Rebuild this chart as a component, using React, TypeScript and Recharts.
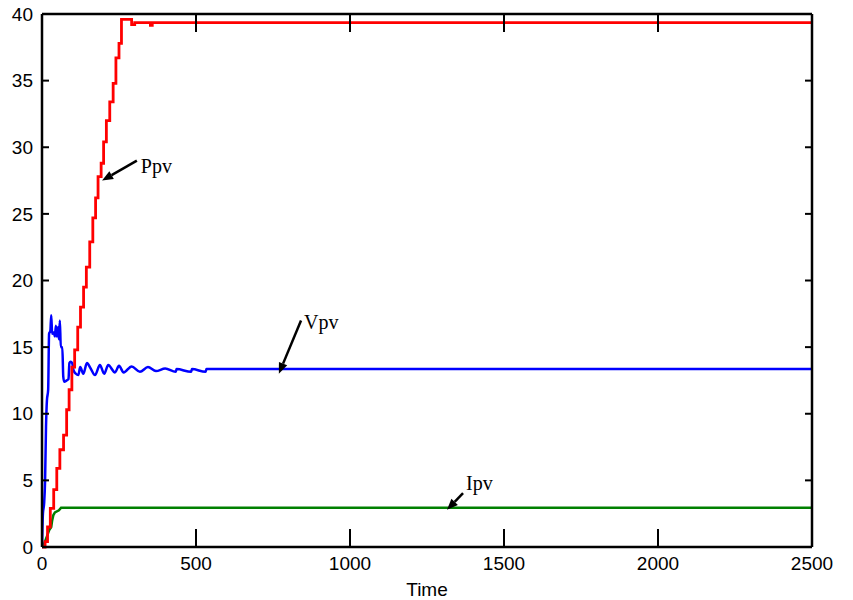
import React from 'react';
import {
  LineChart,
  Line,
  XAxis,
  YAxis,
  ReferenceLine,
} from 'recharts';

// time axis ticks and value axis ticks
const timeTicks = [0, 500, 1000, 1500, 2000, 2500];
const valueTicks = [0, 5, 10, 15, 20, 25, 30, 35, 40];

// Ppv (red) - staircase ramp then flat
const pTime = [0, 10, 18, 27, 38, 48, 58, 70, 80, 88, 97, 106, 116, 125, 135, 144, 155, 165, 174, 182, 192, 200, 209, 220, 231, 240, 250, 258, 291, 301, 352, 358, 2500];
const pValue = [0, 0.4, 1.5, 2.9, 4.3, 5.9, 7.3, 8.4, 10.3, 11.8, 13.5, 14.8, 16.5, 18, 19.5, 21, 22.9, 24.7, 26.2, 27.8, 28.8, 30.4, 32, 33.4, 34.8, 36.7, 37.8, 39.6, 39.2, 39.35, 39.15, 39.35, 39.35];

// Vpv (blue) - overshoot, oscillation, settles
const vTime = [0, 3, 7, 10, 13, 16, 20, 23, 27, 30, 33, 38, 42, 45, 48, 52, 55, 58, 61, 66, 69, 72, 80, 86, 89, 93, 98, 102, 110, 118, 124, 134, 146, 158, 172, 188, 202, 215, 237, 250, 265, 291, 318, 344, 370, 400, 434, 437, 484, 487, 531, 534, 2500];
const vValue = [0, 2.5, 3.3, 5, 9, 11, 11.8, 16, 16.2, 17.4, 16, 16.1, 15.8, 16.6, 15.8, 16.5, 15.6, 17, 15, 15, 12.8, 12.4, 12.5, 12.6, 13.8, 13.9, 13.8, 13.3, 13, 12.9, 13.5, 13, 13.8, 13.4, 12.9, 13.65, 13, 13.65, 13.1, 13.6, 13.1, 13.55, 13.15, 13.5, 13.2, 13.4, 13.15, 13.35, 13.15, 13.35, 13.15, 13.35, 13.35];

// Ipv (green)
const iTime = [0, 8, 16, 24, 30, 33, 37, 42, 55, 62, 2500];
const iValue = [0, 0.3, 0.8, 1.3, 1.5, 2.0, 2.4, 2.6, 2.75, 2.95, 2.95];

const toRows = (ts: number[], vs: number[]) => ts.map((t, i) => ({ t, v: vs[i] }));
const pRows = toRows(pTime, pValue);
const vRows = toRows(vTime, vValue);
const iRows = toRows(iTime, iValue);

// annotation arrows: tail -> tip, in data units
const notes = [
  { name: 'Ppv', tail: { x: 308, y: 29.0 }, tip: { x: 195, y: 27.5 }, dx: 4, dy: 12 },
  { name: 'Vpv', tail: { x: 841, y: 17.0 }, tip: { x: 769, y: 13.0 }, dx: 3, dy: 9 },
  { name: 'Ipv', tail: { x: 1367, y: 4.05 }, tip: { x: 1315, y: 2.8 }, dx: 3, dy: -3 },
];

const Arrow = (props: any) => {
  const { x1, y1, x2, y2, text, dx, dy } = props;
  const ang = Math.atan2(y2 - y1, x2 - x1);
  const len = 11;
  const half = 4.5;
  const bx = x2 - len * Math.cos(ang);
  const by = y2 - len * Math.sin(ang);
  const px = -Math.sin(ang) * half;
  const py = Math.cos(ang) * half;
  return (
    <g>
      <line x1={x1} y1={y1} x2={bx} y2={by} stroke="#000" strokeWidth={2.5} />
      <polygon
        points={`${x2},${y2} ${bx + px},${by + py} ${bx - px},${by - py}`}
        fill="#000"
      />
      <text
        x={x1 + dx}
        y={y1 + dy}
        fontFamily="'Liberation Serif', 'Times New Roman', serif"
        fontSize={20}
        fill="#000"
      >
        {text}
      </text>
    </g>
  );
};

const NoTick = () => <g />;

const axisLine = { stroke: '#000', strokeWidth: 2.5 };
const tickLine = { stroke: '#000', strokeWidth: 2 };
const tickText = { fill: '#000', fontSize: 19 };

export default function App() {
  return (
    <div style={{ position: 'absolute', left: 0, top: 0, width: 853, height: 600, background: '#fff' }}>
      <LineChart
        width={853}
        height={600}
        margin={{ top: 13, right: 40, bottom: 0, left: 0 }}
        style={{ fontFamily: "'Liberation Sans', Arial, sans-serif" }}
      >
        <XAxis
          xAxisId={0}
          dataKey="t"
          type="number"
          domain={[0, 2500]}
          ticks={timeTicks}
          allowDataOverflow
          height={53}
          axisLine={axisLine}
          tickLine={tickLine}
          tickSize={-18}
          tickMargin={28}
          tick={tickText}
          interval={0}
          label={{ value: 'Time', position: 'insideBottom', offset: 4, fill: '#000', fontSize: 19 }}
        />
        <XAxis
          xAxisId="top"
          orientation="top"
          dataKey="t"
          type="number"
          domain={[0, 2500]}
          ticks={timeTicks}
          allowDataOverflow
          height={1}
          axisLine={axisLine}
          tickLine={tickLine}
          tickSize={-18}
          tick={NoTick}
          interval={0}
        />
        <YAxis
          yAxisId={0}
          type="number"
          domain={[0, 40]}
          ticks={valueTicks}
          width={42}
          axisLine={axisLine}
          tickLine={tickLine}
          tickSize={-7}
          tickMargin={16}
          tick={tickText}
          interval={0}
        />
        <YAxis
          yAxisId="right"
          orientation="right"
          type="number"
          domain={[0, 40]}
          ticks={valueTicks}
          width={1}
          axisLine={axisLine}
          tickLine={tickLine}
          tickSize={-7}
          tick={NoTick}
          interval={0}
        />
        {/* invisible copy bound to the frame axes so their ticks get drawn */}
        <Line xAxisId="top" yAxisId="right" data={iRows} dataKey="v" stroke="none" dot={false} legendType="none" isAnimationActive={false} />
        <Line data={iRows} dataKey="v" type="linear" stroke="#008000" strokeWidth={2.5} dot={false} isAnimationActive={false} />
        <Line data={vRows} dataKey="v" type="monotoneX" stroke="#0000ff" strokeWidth={2.5} dot={false} isAnimationActive={false} />
        <Line data={pRows} dataKey="v" type="stepAfter" stroke="#ff0000" strokeWidth={2.8} dot={false} isAnimationActive={false} />
        {notes.map((n) => (
          <ReferenceLine
            key={n.name}
            segment={[n.tail, n.tip]}
            ifOverflow="visible"
            shape={(p: any) => <Arrow {...p} text={n.name} dx={n.dx} dy={n.dy} />}
          />
        ))}
      </LineChart>
    </div>
  );
}
